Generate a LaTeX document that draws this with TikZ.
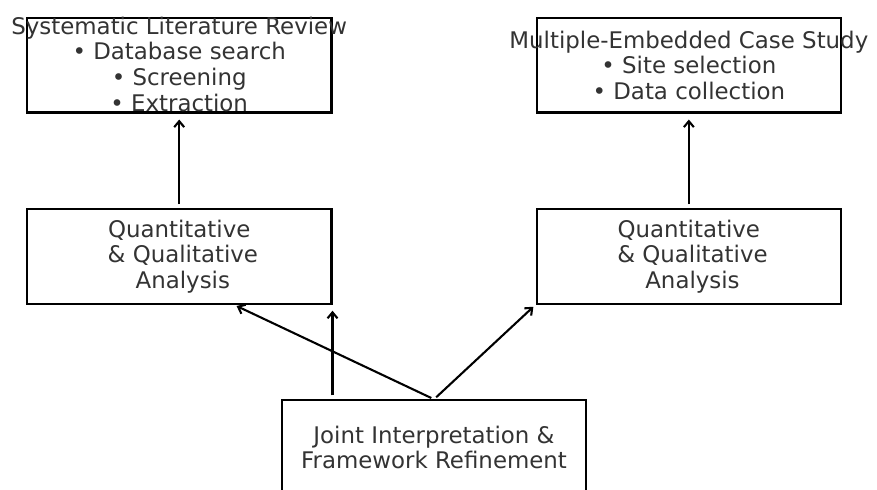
\documentclass[tikz,border=0pt]{standalone}
\usepackage{fontspec}
\setmainfont{DejaVu Sans}
\usepackage{xcolor}
\usetikzlibrary{positioning,calc,arrows.meta}
\definecolor{textgray}{HTML}{333333}

\begin{document}
\begin{tikzpicture}[
  node distance=95pt and 204pt,
  box/.style={draw, line width=2.1pt, minimum width=306pt, minimum height=95pt, inner sep=0pt},
  lbl/.style={align=center, text=textgray, inner sep=0pt,
    font=\fontsize{23}{25.8}\selectfont},
  arr/.style={-{Straight Barb[length=6pt,width=10pt]}, line width=2.1pt}
]
  % boxes
  \node[box] (slr) {};
  \node[box, right=of slr] (mecs) {};
  \node[box, below=of slr] (ql) {};
  \node[box, below=of mecs] (qr) {};
  \node[box, below=95pt of $(ql.south)!0.5!(qr.south)$] (joint) {};

  % texts
  \node[lbl] (slr-txt) at ([yshift=1pt]slr) {Systematic Literature Review\\• Database search\\• Screening\\• Extraction};
  \node[lbl] (mecs-txt) at (mecs) {Multiple-Embedded Case Study\\• Site selection\\• Data collection};
  \node[lbl] (ql-txt) at (ql) {Quantitative\\\hphantom{\ }\& Qualitative\\\hphantom{\ }Analysis};
  \node[lbl] (qr-txt) at (qr) {Quantitative\\\hphantom{\ }\& Qualitative\\\hphantom{\ }Analysis};
  \node[lbl] (joint-txt) at (joint) {Joint Interpretation \&\\Framework Refinement};

  % arrows
  \draw[arr, shorten <=4pt, shorten >=6pt] (ql.north) -- (slr.south);
  \draw[arr, shorten <=4pt, shorten >=6pt] (qr.north) -- (mecs.south);
  \draw[arr, shorten <=3pt, shorten >=3pt] (joint.north) -- ([xshift=55pt]ql.south);
  \draw[arr, shorten <=4pt, shorten >=6pt] (joint.north -| ql.south east) -- (ql.south east);
  \draw[arr, shorten <=3pt, shorten >=3pt] (joint.north) -- (qr.south west);

  \pgfresetboundingbox
  \path[use as bounding box] ($(slr.north west)+(-26pt,17pt)$) rectangle ($(joint.north -| mecs.east)+(35pt,-91pt)$);
\end{tikzpicture}
\end{document}
